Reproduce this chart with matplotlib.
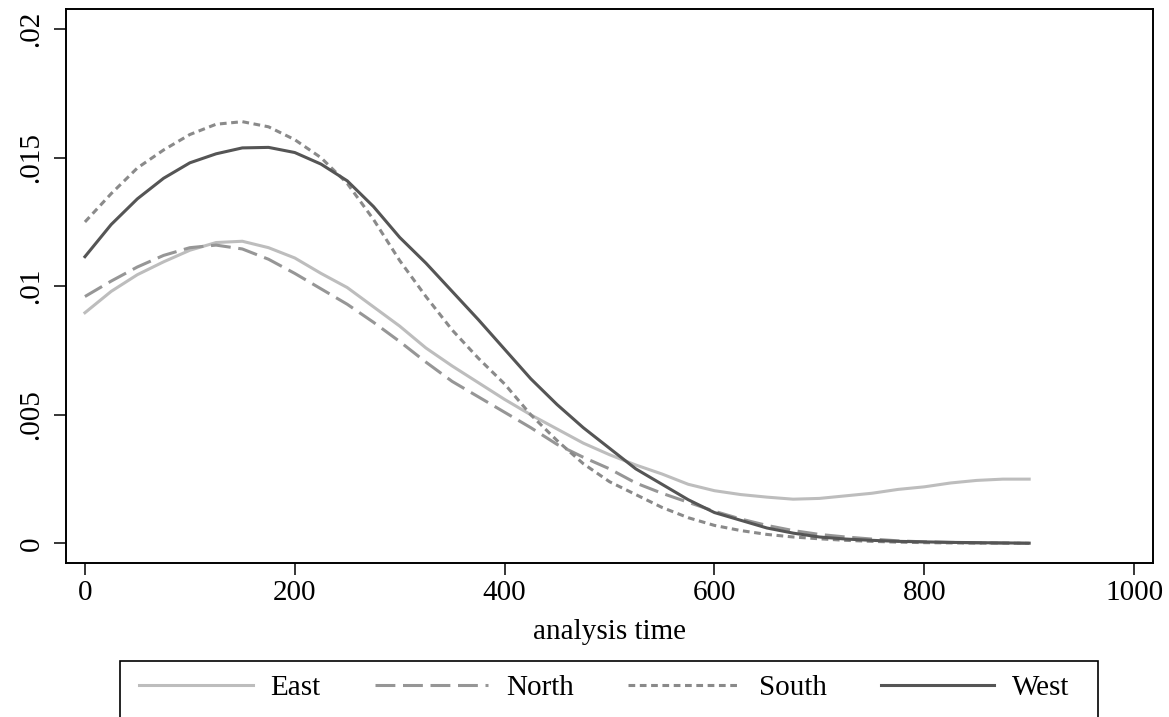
import matplotlib
matplotlib.use("Agg")
from matplotlib import pyplot as plt
from matplotlib.patches import Rectangle

plt.rcParams['font.family'] = ['Liberation Serif', 'DejaVu Serif']

# analysis time grid (every 25 units)
t = [0, 25, 50, 75, 100, 125, 150, 175, 200, 225, 250, 275, 300, 325, 350,
     375, 400, 425, 450, 475, 500, 525, 550, 575, 600, 625, 650, 675, 700,
     725, 750, 775, 800, 825, 850, 875, 900]

# smoothed hazard, in units of 0.001
east = [8.97, 9.8, 10.45, 10.95, 11.4, 11.7, 11.75, 11.5, 11.1, 10.5, 9.95,
        9.2, 8.45, 7.6, 6.9, 6.25, 5.6, 5.0, 4.45, 3.9, 3.45, 3.05, 2.7, 2.3,
        2.05, 1.9, 1.8, 1.72, 1.75, 1.85, 1.95, 2.1, 2.2, 2.35, 2.45, 2.5, 2.5]
north = [9.6, 10.2, 10.75, 11.2, 11.5, 11.6, 11.45, 11.05, 10.5, 9.9, 9.3,
         8.6, 7.85, 7.05, 6.3, 5.7, 5.1, 4.5, 3.85, 3.35, 2.9, 2.35, 1.95,
         1.6, 1.25, 0.95, 0.7, 0.5, 0.35, 0.25, 0.17, 0.1, 0.06, 0.04, 0.02,
         0.01, 0.0]
south = [12.5, 13.6, 14.6, 15.3, 15.9, 16.3, 16.4, 16.2, 15.7, 15.0, 14.0,
         12.6, 11.0, 9.6, 8.3, 7.2, 6.2, 5.0, 4.0, 3.1, 2.4, 1.9, 1.4, 1.0,
         0.7, 0.5, 0.35, 0.25, 0.18, 0.12, 0.08, 0.05, 0.03, 0.02, 0.01,
         0.01, 0.0]
west = [11.15, 12.4, 13.4, 14.2, 14.8, 15.15, 15.38, 15.4, 15.2, 14.75, 14.1,
        13.1, 11.9, 10.9, 9.8, 8.7, 7.55, 6.4, 5.4, 4.5, 3.7, 2.9, 2.3, 1.7,
        1.2, 0.9, 0.6, 0.4, 0.25, 0.17, 0.12, 0.08, 0.06, 0.04, 0.03, 0.02,
        0.01]

labels = ['East', 'North', 'South', 'West']
xticks = [0, 200, 400, 600, 800, 1000]
yticks = [0, 0.005, 0.01, 0.015, 0.02]
ytick_labels = ['0', '.005', '.01', '.015', '.02']

fig = plt.figure(figsize=(11.69, 7.17), dpi=100)
ax = fig.add_axes([0.0565, 0.2152, 0.9298, 0.7722])

lw = 2.2
ax.plot(t, [v / 1000 for v in east], color='#bdbdbd', lw=lw, label=labels[0])
ax.plot(t, [v / 1000 for v in north], color='#969696', lw=lw,
        dashes=(6.5, 2.5), label=labels[1])
ax.plot(t, [v / 1000 for v in south], color='#8a8a8a', lw=lw,
        dashes=(2.2, 1.5), label=labels[2])
ax.plot(t, [v / 1000 for v in west], color='#555555', lw=lw, label=labels[3])

ax.set_xlim(-18, 1018)
ax.set_ylim(-0.00075, 0.02078)
ax.set_xticks(xticks)
ax.set_yticks(yticks)
ax.set_yticklabels(ytick_labels, rotation=90, va='center')
ax.tick_params(direction='out', length=8.6, width=1.1, labelsize=21, pad=4)
ax.tick_params(axis='y', pad=7)
for s in ax.spines.values():
    s.set_linewidth(1.4)
ax.set_xlabel('analysis time', fontsize=21, labelpad=9)

# legend box runs off the bottom of the picture
fig.patches.append(Rectangle((0.1027, -0.1), 0.8366, 0.1781, transform=fig.transFigure,
                             fill=False, edgecolor='black', linewidth=1.2))
fig.legend(loc='center', bbox_to_anchor=(0.517, 0.041), ncol=4, frameon=False,
           fontsize=21, handlelength=3.9, handletextpad=0.6, columnspacing=1.85,
           borderpad=0)

fig.savefig('out.png', dpi=100)
